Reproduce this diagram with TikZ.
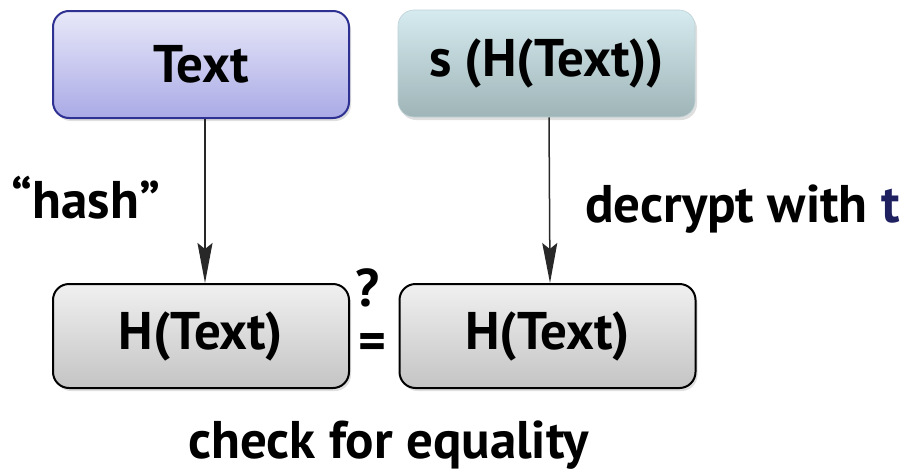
\documentclass[tikz,border=0pt]{standalone}
\usepackage{fontspec}
\setmainfont{PT Sans}
\usetikzlibrary{shadows,arrows.meta}
\definecolor{boxblue}{HTML}{2E3192}
\definecolor{navy}{HTML}{1F2060}
\begin{document}
\begin{tikzpicture}[x=1pt,y=-1pt,
  bigfont/.style={font=\fontsize{53}{60}\selectfont\bfseries},
  base/.style={bigfont, rounded corners=16pt, line width=2pt, align=center, inner sep=0pt,
    drop shadow={shadow xshift=2pt, shadow yshift=-3pt, opacity=0.25}},
  bluebox/.style={base, draw=boxblue, top color={rgb,255:red,232;green,232;blue,249}, bottom color={rgb,255:red,170;green,170;blue,230},
    minimum width=296pt, minimum height=107pt},
  tealbox/.style={base, draw={rgb,255:red,190;green,210;blue,214}, line width=0.6pt,
    top color={rgb,255:red,214;green,235;blue,239}, bottom color={rgb,255:red,158;green,180;blue,183},
    minimum width=297pt, minimum height=107pt},
  greybox/.style={base, draw=black, top color={rgb,255:red,240;green,240;blue,240}, bottom color={rgb,255:red,196;green,196;blue,196},
    minimum width=296pt, minimum height=104pt},
  lbl/.style={bigfont, inner sep=0pt},
  conn/.style={line width=1.5pt, draw={rgb,255:red,40;green,40;blue,40}, -{Stealth[length=40pt,width=15pt,inset=6pt]}}
]
\useasboundingbox (0,0) rectangle (909,471);
\node[bluebox] (t1) at (201,64.5) {Text};
\node[tealbox] (t2) at (546.5,63.5) {s (H(Text))};
\node[greybox] (h1) at (201,336) {H(Text)};
\node[greybox] (h2) at (547.5,336) {H(Text)};
\draw[conn] ([xshift=4pt]t1.south) -- ([xshift=4pt]h1.north);
\draw[conn] ([xshift=2.5pt]t2.south) -- ([xshift=2.5pt]h2.north);
\node[lbl] (hash) at (86,198) {“hash”};
\node[lbl, anchor=west] (dec) at (585,209) {decrypt with \textcolor{navy}{t}};
\node[lbl] (q) at (368,288) {?};
\node[lbl] (eq) at (372,347) {=};
\node[lbl, anchor=base] (chk) at (388.5,458) {check for equality};
\end{tikzpicture}
\end{document}
